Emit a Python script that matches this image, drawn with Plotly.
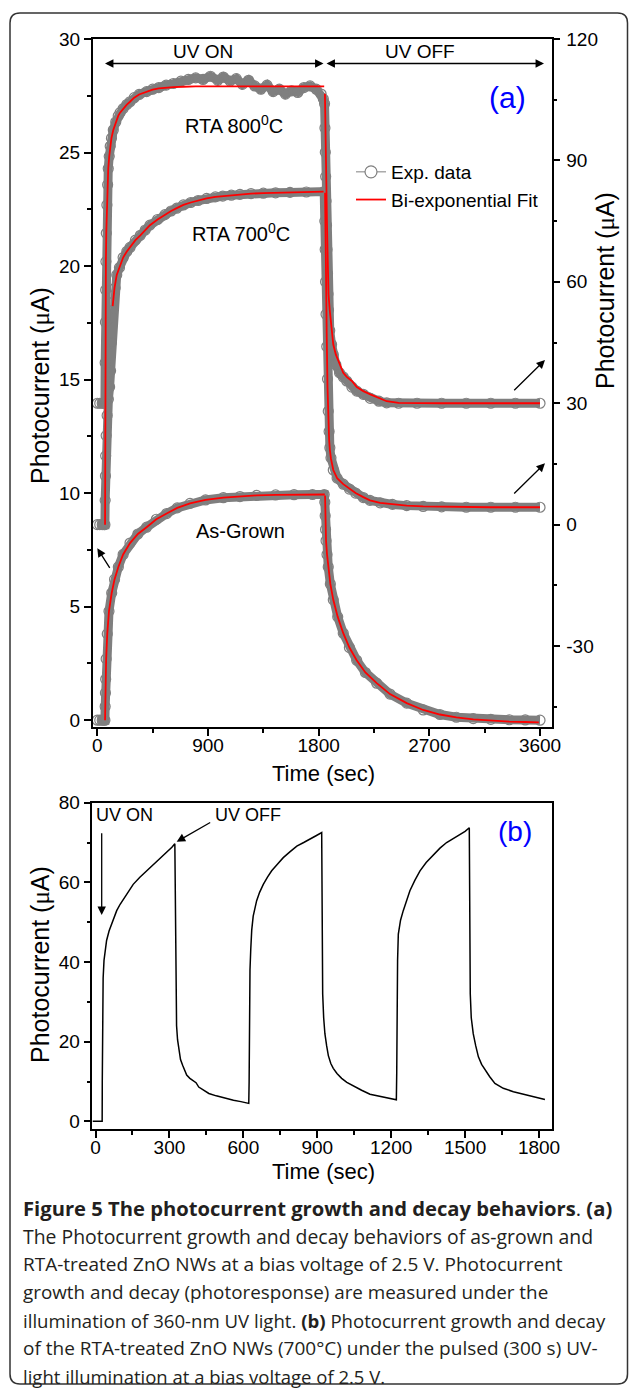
import plotly.graph_objects as go

W, H = 629, 1388
def X(px):
    return px / W
def Y(py):
    return 1 - py / H

# ---------------- Panel (a) data ----------------
# As-Grown (left axis, uA)
ag_t = [0, 20, 40, 55, 62, 64, 66, 68, 72, 81, 95, 117, 140, 171, 210, 266, 330, 401, 480, 564,
        650, 754, 880, 1025, 1160, 1296, 1450, 1600, 1750, 1845, 1850, 1853, 1856, 1860, 1868, 1878,
        1895, 1919, 1955, 2000, 2050, 2109, 2180, 2272, 2380, 2516, 2650, 2786, 2920, 3057, 3200,
        3350, 3480, 3600]
ag_v = [0, 0, 0, 0, 0, 0.6, 1.2, 1.8, 2.7, 3.8, 4.8, 5.6, 6.2, 6.75, 7.3, 7.8, 8.2, 8.5, 8.85, 9.1,
        9.35, 9.55, 9.7, 9.8, 9.85, 9.9, 9.92, 9.93, 9.94, 9.94, 9.6, 9.0, 8.4, 7.9, 7.3, 6.75,
        6.0, 5.3, 4.55, 3.83, 3.2, 2.64, 2.1, 1.63, 1.15, 0.75, 0.45, 0.25, 0.13, 0.07, 0.04,
        0.02, 0.01, 0.0]
ag_fit_t = [63, 65, 68, 72, 81, 95, 117, 140, 171, 210, 266, 330, 401, 480, 564, 650, 754, 880,
            1025, 1160, 1296, 1450, 1600, 1750, 1850, None, 1852, 1856, 1860, 1868, 1878, 1895,
            1919, 1955, 2000, 2050, 2109, 2180, 2272, 2380, 2516, 2650, 2786, 2920, 3057, 3200,
            3350, 3480, 3590]
ag_fit_v = [0, 0.6, 1.8, 2.7, 3.8, 4.8, 5.6, 6.2, 6.75, 7.3, 7.8, 8.2, 8.5, 8.85, 9.1, 9.35, 9.55,
            9.7, 9.8, 9.85, 9.9, 9.92, 9.93, 9.94, 9.94, None, 9.9, 8.6, 7.9, 7.3, 6.75, 6.0,
            5.3, 4.55, 3.83, 3.2, 2.64, 2.1, 1.63, 1.15, 0.75, 0.45, 0.25, 0.12, 0.04, -0.02,
            -0.06, -0.08, -0.1]

# RTA 700 C (right axis, uA)
r7_t = [0, 20, 40, 55, 62, 64, 66, 68, 72, 80, 90, 100, 108, 114, 120, 130, 145, 158, 180, 210,
        240, 266, 310, 350, 390, 428, 490, 550, 600, 646, 700, 760, 820, 889, 960, 1020, 1090,
        1160, 1250, 1350, 1450, 1567, 1700, 1845, 1850, 1853, 1856, 1860, 1866, 1872, 1878, 1885,
        1891, 1900, 1919, 1950, 2000, 2050, 2100, 2163, 2217, 2300, 2400, 2516, 2650, 2800, 3000,
        3200, 3400, 3600]
r7_v = [0, 0, 0, 0, 0, 6, 12, 17, 22, 27, 31, 34, 38, 45, 51, 55, 58.5, 61.7, 63.5, 66,
        67.5, 68.5, 70.3, 71.5, 72.8, 74, 75.4, 76.6, 77.5, 78.2, 79, 79.6, 80.1, 80.6, 81, 81.2,
        81.4, 81.6, 81.8, 81.9, 82.0, 82.1, 82.2, 82.3, 75, 68, 60, 52, 44, 36, 28, 23,
        19, 16.5, 13.5, 11.5, 10.0, 8.8, 7.8, 6.7, 6.0, 5.4, 5.0, 4.7, 4.5, 4.4, 4.3,
        4.3, 4.3, 4.3]
r7_fit_t = [125, 140, 158, 180, 210, 240, 266, 310, 350, 390, 428, 490, 550, 600, 646, 700, 760,
            820, 889, 960, 1020, 1090, 1160, 1250, 1350, 1450, 1567, 1700, 1840, None, 1852, 1856,
            1860, 1866, 1872, 1878, 1885, 1891, 1900, 1919, 1950, 2000, 2050, 2100, 2163, 2217,
            2300, 2400, 2516, 2650, 2800, 3000, 3200, 3400, 3600]
r7_fit_v = [54, 58.5, 61.7, 63.5, 66, 67.5, 68.5, 70.3, 71.5, 72.8, 74, 75.4, 76.6, 77.5, 78.2,
            79, 79.6, 80.1, 80.6, 81, 81.2, 81.4, 81.6, 81.8, 81.9, 82.0, 82.1, 82.2, 82.3, None,
            82, 68, 58, 46, 34, 25, 21, 18.5, 16.3, 13.5, 11.5, 10.0, 8.8, 7.8, 6.8, 6.0,
            5.4, 5.0, 4.7, 4.5, 4.4, 4.3, 4.3, 4.3, 4.3]

# RTA 800 C (right axis, uA)
r8_t = [0, 20, 40, 55, 62, 64, 66, 68, 70, 73, 78, 84, 89, 97, 105, 115, 130, 150, 170, 185,
        210, 240, 266, 300, 340, 401, 450, 500, 560, 618, 680, 740, 800, 860, 920, 980, 1025,
        1080, 1130, 1180, 1230, 1280, 1330, 1380, 1430, 1480, 1530, 1580, 1630, 1680, 1730, 1780,
        1820, 1838, 1848, 1851, 1854, 1857, 1860, 1864, 1868, 1872, 1876, 1880, 1890, 1905, 1919,
        1940, 1970, 2000, 2028, 2070, 2110, 2163, 2220, 2290, 2353, 2450, 2600, 2800, 3000, 3200,
        3400, 3600]
r8_v = [30, 30, 30, 30, 30, 40, 50, 58, 65, 72, 79, 84, 88, 91, 93.5, 95.5, 97.5, 99.5, 101, 101.8,
        102.8, 103.8, 104.5, 105.5, 106.3, 107, 107.6, 108.0, 108.6, 109.0, 109.6, 110.0, 110.4,
        110.0, 110.8, 109.8, 110.6, 109.6, 110.2, 108.8, 109.8, 108.4, 107.6, 108.6, 107.0, 107.6,
        106.4, 107.2, 106.8, 108.0, 108.4, 107.6, 106.4, 105.2, 104, 98, 92, 86, 80, 74, 68, 62,
        57, 53, 48, 44.5, 42, 39.5, 37.5, 36.5, 35.5, 34, 33, 32.2, 31.2, 30.5, 30.1, 30, 30,
        30, 30, 30, 30, 30]
r8_fit_t = [63, 64, 66, 68, 70, 73, 78, 84, 89, 97, 105, 115, 130, 150, 170, 185, 210, 240, 266,
            300, 340, 401, 450, 500, 560, 618, 700, 800, 1000, 1845, None, 1851, 1854, 1857, 1860,
            1864, 1868, 1872, 1876, 1880, 1890, 1905, 1919, 1940, 1970, 2000, 2028, 2070, 2110,
            2163, 2220, 2290, 2353, 2450, 2600, 2800, 3000, 3200, 3400, 3600]
r8_fit_v = [0, 40, 50, 58, 65, 72, 79, 84, 88, 91, 93.5, 95.5, 97.5, 99.5, 101, 101.8, 102.8,
            103.8, 104.5, 105.5, 106.3, 107, 107.5, 107.8, 108.0, 108.1, 108.2, 108.3, 108.3,
            108.3, None, 106.5, 98, 92, 86, 80, 74, 68, 62, 57, 53, 48, 44.5, 42, 39.5, 37.5,
            36.5, 35.5, 34, 33, 32.2, 31.2, 30.5, 30.1, 30, 30, 30, 30, 30, 30, 30]

# tick labels
ya_ticks = [0, 5, 10, 15, 20, 25, 30]
y2_ticks = [-30, 0, 30, 60, 90, 120]
y2_labels = ['-30', '0', '30', '60', '90', '120']

# ---------------- Panel (b) data ----------------
pb_t = [-12, 0, 15, 27, 27.5, 28, 29, 31, 34.5, 40, 45, 55, 66, 76, 86, 100, 113, 130, 153, 180,
        208, 235, 262, 290, 310, 322, 323, 324, 326, 329, 333, 338, 345, 354, 362, 370, 383, 395,
        402, 408, 419, 437, 460, 490, 525, 560, 590, 622,
        623.5, 624, 625, 627, 630, 634, 640, 654, 666, 681, 698, 715, 740, 762, 790, 817, 845,
        871, 895, 918, 919, 920, 922, 926, 931, 938, 945, 955, 965, 980, 999, 1020, 1046, 1080,
        1114, 1150, 1177, 1200, 1221,
        1222.5, 1223, 1224, 1226, 1229, 1238, 1249, 1262, 1276, 1296, 1317, 1342, 1371, 1398,
        1425, 1452, 1479, 1500, 1517, 1518, 1519, 1521, 1525, 1533, 1543, 1554, 1567, 1581, 1600,
        1621, 1655, 1696, 1750, 1790, 1824]
pb_v = [0, 0, 0, 0, 10, 20, 30.4, 36, 40.4, 43.5, 45.4, 47.8, 49.5, 51.3, 52.9, 54.5, 55.8, 57.5,
        59.5, 61.3, 62.9, 64.5, 66.2, 67.8, 68.8, 69.7, 60, 45, 30, 24, 20.5, 18.5, 15.5, 14.0,
        12.6, 11.6, 10.8, 10.3, 10.0, 9.7, 8.6, 7.8, 7.0, 6.4, 5.8, 5.3, 4.95, 4.5,
        10, 20, 30, 38, 43, 48, 51.5, 55.4, 57.5, 59.5, 61.3, 62.9, 64.7, 66.2, 67.7, 69.1, 70.0,
        70.8, 71.7, 72.5, 60, 45, 32, 26, 22, 19, 16.5, 14.5, 13.3, 12.0, 10.8, 9.8, 8.9, 7.8,
        6.8, 6.3, 6.0, 5.7, 5.4,
        12, 25, 34, 40.4, 47, 50.5, 52.9, 55.5, 57.9, 60.5, 62.9, 65.0, 67.0, 68.6,
        70.0, 71.0, 72.0, 72.8, 73.7, 60, 45, 32, 26, 22, 19, 16.2, 14.3, 12.9, 11.2,
        9.5, 8.3, 7.45, 6.6, 6.0, 5.5]

# ---------------- Figure ----------------
GRAY = '#7f7f7f'
RED = '#ff0000'
FONT = 'Liberation Sans, Arial, sans-serif'

fig = go.Figure()

def exp_trace(t, v, yax):
    return go.Scatter(x=t, y=v, xaxis='x', yaxis=yax, mode='lines+markers',
                      line=dict(color=GRAY, width=9),
                      marker=dict(symbol='circle-open', size=10, color=GRAY, line=dict(width=1.2)),
                      showlegend=False, legendgroup='exp', hoverinfo='skip')

def fit_trace(t, v, yax, show):
    return go.Scatter(x=t, y=v, xaxis='x', yaxis=yax, mode='lines',
                      line=dict(color=RED, width=1.8), connectgaps=False,
                      name='Bi-exponential Fit', legendgroup='fit', showlegend=show,
                      hoverinfo='skip')

fig.add_trace(exp_trace(ag_t, ag_v, 'y'))
fig.add_trace(fit_trace(ag_fit_t, ag_fit_v, 'y', False))
fig.add_trace(exp_trace(r7_t, r7_v, 'y2'))
fig.add_trace(exp_trace(r8_t, r8_v, 'y2'))
fig.add_trace(fit_trace(r7_fit_t, r7_fit_v, 'y2', False))
fig.add_trace(fit_trace(r8_fit_t, r8_fit_v, 'y2', False))
# legend entries
fig.add_trace(go.Scatter(x=[None], y=[None], xaxis='x', yaxis='y', mode='lines+markers',
                         name='Exp. data', legendgroup='exp', showlegend=True,
                         line=dict(color=GRAY, width=1),
                         marker=dict(symbol='circle', size=12, color='white',
                                     line=dict(color=GRAY, width=1.2))))
fig.add_trace(go.Scatter(x=[None], y=[None], xaxis='x', yaxis='y', mode='lines',
                         name='Bi-exponential Fit', legendgroup='fit', showlegend=True,
                         line=dict(color=RED, width=1.8)))

fig.add_trace(go.Scatter(x=pb_t, y=pb_v, xaxis='x2', yaxis='y3', mode='lines',
                         line=dict(color='black', width=1.5), showlegend=False, hoverinfo='skip'))

tickfont = dict(family=FONT, size=19, color='black')
common = dict(showline=True, linecolor='black', linewidth=1.5, ticks='outside', ticklen=7,
              tickwidth=1.5, tickcolor='black', showgrid=False, zeroline=False,
              tickfont=tickfont, automargin=False)

fig.update_layout(
    width=W, height=H, margin=dict(l=0, r=0, t=0, b=0),
    paper_bgcolor='white', plot_bgcolor='white',
    xaxis=dict(domain=[X(92.7), X(551.7)], range=[-37.4, 3695], anchor='y', mirror=True,
               tick0=0, dtick=900, ticklabelstandoff=-7,
               minor=dict(dtick=450, ticklen=4, ticks='outside',
                          tickcolor='black', tickwidth=1.5), **common),
    yaxis=dict(domain=[Y(727), Y(39)], range=[-0.3, 30], anchor='x', tickvals=ya_ticks,
               minor=dict(dtick=2.5, ticklen=4, ticks='outside', tickcolor='black', tickwidth=1.5),
               **common),
    yaxis2=dict(range=[-50, 120], overlaying='y', side='right', anchor='x',
                tickvals=y2_ticks, ticktext=y2_labels, ticklabelstandoff=2,
                minor=dict(dtick=15, tick0=0, ticklen=4, ticks='outside', tickcolor='black',
                           tickwidth=1.5),
                **common),
    xaxis2=dict(domain=[X(92.4), X(552)], range=[-12.6, 1852.7], anchor='y3', mirror=True,
                tick0=0, dtick=300, ticklabelstandoff=-7,
                minor=dict(dtick=150, ticklen=4, ticks='outside',
                           tickcolor='black', tickwidth=1.5), **common),
    yaxis3=dict(domain=[Y(1129.3), Y(802.7)], range=[-2, 80], anchor='x2', mirror=True,
                tick0=0, dtick=20, minor=dict(dtick=10, ticklen=4, ticks='outside',
                                              tickcolor='black', tickwidth=1.5), **common),
    legend=dict(x=X(351), y=Y(153), xanchor='left', yanchor='top', bgcolor='rgba(0,0,0,0)',
                font=dict(family=FONT, size=19, color='black'), tracegroupgap=0,
                traceorder='normal'),
)

ann = []
def txt(s, x, y, size=20, color='black', xanchor='center', angle=0, family=FONT):
    ann.append(dict(text=s, x=X(x), y=Y(y), xref='paper', yref='paper', showarrow=False,
                    xanchor=xanchor, yanchor='middle', textangle=angle,
                    font=dict(family=family, size=size, color=color)))

def arrow(tipx, tipy, ax, ay, both=False):
    ann.append(dict(text='', x=X(tipx), y=Y(tipy), xref='paper', yref='paper', showarrow=True,
                    ax=ax, ay=ay, axref='pixel', ayref='pixel', arrowhead=2, arrowsize=1.3,
                    arrowwidth=1.3, arrowcolor='black',
                    arrowside='end+start' if both else 'end', startarrowhead=2,
                    startarrowsize=1.3))

mu = '<span style="font-family:Liberation Serif">μ</span>'
ytitle = 'Photocurrent (' + mu + 'A)'
# Panel (a)
txt('UV ON', 203, 51, 19)
txt('UV OFF', 420, 51, 19)
arrow(105, 63.5, 220, 0, both=True)
arrow(544, 63.5, -219, 0, both=True)
txt('(a)', 507, 97, 30, color='#0000ff')
txt('RTA 800<sup>0</sup>C', 234, 124, 20)
txt('RTA 700<sup>0</sup>C', 241, 232, 20)
txt('As-Grown', 240, 531, 20)
arrow(97.3, 548.3, 13.4, 21)
arrow(545, 360, -32.3, 31.7)
arrow(545, 463.3, -32.3, 31.7)
txt('Time (sec)', 323, 773, 22)
txt(ytitle, 40, 386, 25, angle=-90)
txt(ytitle, 605, 291, 25, angle=-90)
# Panel (b)
txt('UV ON', 124, 815, 18)
txt('UV OFF', 248, 815, 18)
arrow(101.7, 915, 0, -83.3)
arrow(176.7, 841.7, 35, -20)
txt('(b)', 515, 831, 28, color='#0000ff')
txt('Time (sec)', 323, 1171, 22)
txt(ytitle, 40, 965, 25, angle=-90)

# Caption
CAP = 'Open Sans, Noto Sans, sans-serif'
CC = '#231f20'
cap_lines = [
    '<b>Figure 5 The photocurrent growth and decay behaviors</b>. <b>(a)</b>',
    'The Photocurrent growth and decay behaviors of as-grown and',
    'RTA-treated ZnO NWs at a bias voltage of 2.5 V. Photocurrent',
    'growth and decay (photoresponse) are measured under the',
    'illumination of 360-nm UV light. <b>(b)</b> Photocurrent growth and decay',
    'of the RTA-treated ZnO NWs (700°C) under the pulsed (300 s) UV-',
    'light illumination at a bias voltage of 2.5 V.',
]
cap_sizes = [20.2, 19.4, 19.0, 18.85, 18.6, 19.0, 18.5]
for i, line in enumerate(cap_lines):
    txt(line, 21, 1208 + 28 * i, cap_sizes[i], color=CC, xanchor='left', family=CAP)

fig.update_layout(annotations=ann)

# rounded frame
r_x, r_y = 10 / W, 10 / H
x0, x1, y0, y1 = X(10), X(627.5), Y(1384), Y(13)
path = (f'M {x0 + r_x},{y1} L {x1 - r_x},{y1} Q {x1},{y1} {x1},{y1 - r_y} '
        f'L {x1},{y0 + r_y} Q {x1},{y0} {x1 - r_x},{y0} L {x0 + r_x},{y0} '
        f'Q {x0},{y0} {x0},{y0 + r_y} L {x0},{y1 - r_y} Q {x0},{y1} {x0 + r_x},{y1} Z')
fig.add_shape(type='path', path=path, xref='paper', yref='paper',
              line=dict(color='#333333', width=1.5), fillcolor='rgba(0,0,0,0)', layer='above')

fig.write_html('out.html', config={'displayModeBar': False},
               post_script="document.body.style.margin='0';"
                           "document.body.style.padding='0';"
                           "document.body.style.overflow='hidden';")
